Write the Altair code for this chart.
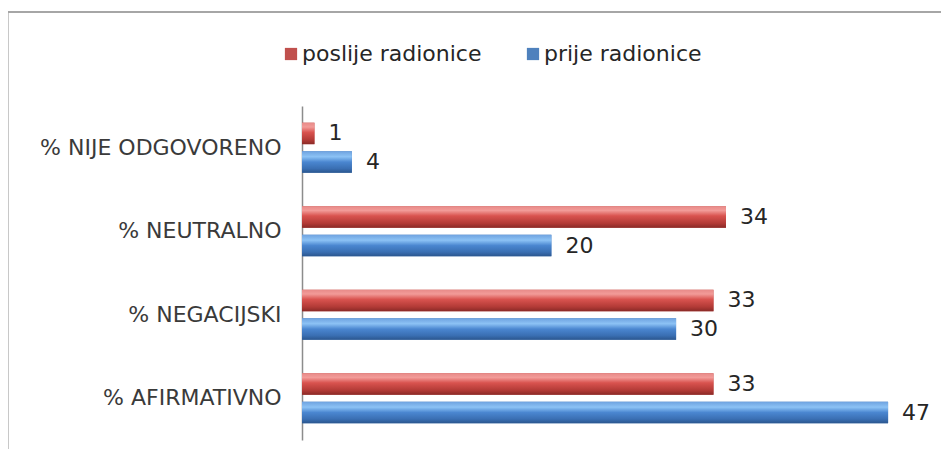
import altair as alt
import pandas as pd

categories = ["% NIJE ODGOVORENO", "% NEUTRALNO", "% NEGACIJSKI ", "% AFIRMATIVNO"]
series = ["poslije radionice", "prije radionice"]
poslije = [1, 34, 33, 33]
prije = [4, 20, 30, 47]

rows = []
for c, a, b in zip(categories, poslije, prije):
    rows.append({"cat": c, "series": series[0], "value": a})
    rows.append({"cat": c, "series": series[1], "value": b})
df = pd.DataFrame(rows)

FONT = "DejaVu Sans"

yenc = alt.Y("cat:N", sort=categories,
             scale=alt.Scale(paddingInner=0.4, paddingOuter=0.2),
             axis=alt.Axis(title=None, ticks=False, labelPadding=21, labelFontSize=22,
                           labelFont=FONT, labelColor="#3a3a3a", domainColor="#8c8c8c",
                           domainWidth=1.5, labelLimit=320))
yoff = alt.YOffset("series:N", sort=series, scale=alt.Scale(paddingInner=0.25))
xenc = alt.X("value:Q", scale=alt.Scale(domain=[0, 50], nice=False), axis=None)

border = alt.Chart(df).mark_rect(fill="transparent", stroke="#a6a6a6", strokeWidth=2.2).encode(
    x=alt.value(-295), x2=alt.value(700), y=alt.value(-94), y2=alt.value(400)
)

base = alt.Chart(df).mark_bar().encode(
    y=yenc, yOffset=yoff, x=xenc,
    color=alt.Color("series:N", sort=series,
                    scale=alt.Scale(domain=series, range=["#c0504d", "#4f81bd"]),
                    legend=alt.Legend(title=None, orient="none", legendX=-22, legendY=-63,
                                      direction="horizontal", symbolType="square",
                                      symbolSize=150, labelFontSize=22, labelFont=FONT,
                                      labelColor="#262626", columnPadding=40,
                                      symbolStrokeWidth=0, labelOffset=0, labelLimit=400))
)

red_grad = alt.Gradient(gradient="linear", x1=0, y1=0, x2=0, y2=1, stops=[
    alt.GradientStop(offset=0, color="#e88a88"),
    alt.GradientStop(offset=0.2, color="#f29b98"),
    alt.GradientStop(offset=0.45, color="#d9534f"),
    alt.GradientStop(offset=0.8, color="#b23a36"),
    alt.GradientStop(offset=1, color="#8a2a27"),
])
blue_grad = alt.Gradient(gradient="linear", x1=0, y1=0, x2=0, y2=1, stops=[
    alt.GradientStop(offset=0, color="#6fa3e0"),
    alt.GradientStop(offset=0.25, color="#8cc2f5"),
    alt.GradientStop(offset=0.5, color="#4a86d0"),
    alt.GradientStop(offset=0.8, color="#3a6fb3"),
    alt.GradientStop(offset=1, color="#2b568e"),
])

red = alt.Chart(df).transform_filter(alt.datum.series == series[0]).mark_bar(fill=red_grad).encode(
    y=yenc, yOffset=yoff, x=xenc)
blue = alt.Chart(df).transform_filter(alt.datum.series == series[1]).mark_bar(fill=blue_grad).encode(
    y=yenc, yOffset=yoff, x=xenc)

labels = alt.Chart(df).mark_text(align="left", baseline="middle", dx=14, fontSize=22,
                                 font=FONT, color="#262626").encode(
    y=yenc, yOffset=yoff, x=xenc, text="value:Q")

chart = alt.layer(border, base, red, blue, labels).properties(
    width=623.5, height=334,
    autosize=alt.AutoSizeParams(type="none"),
    padding={"left": 294, "top": 98, "right": 15, "bottom": 9},
).configure_view(stroke=None).configure_axisY(labelFontSize=22, labelFont=FONT)

chart.save("out.html", embed_options={"renderer": "svg", "actions": False})
